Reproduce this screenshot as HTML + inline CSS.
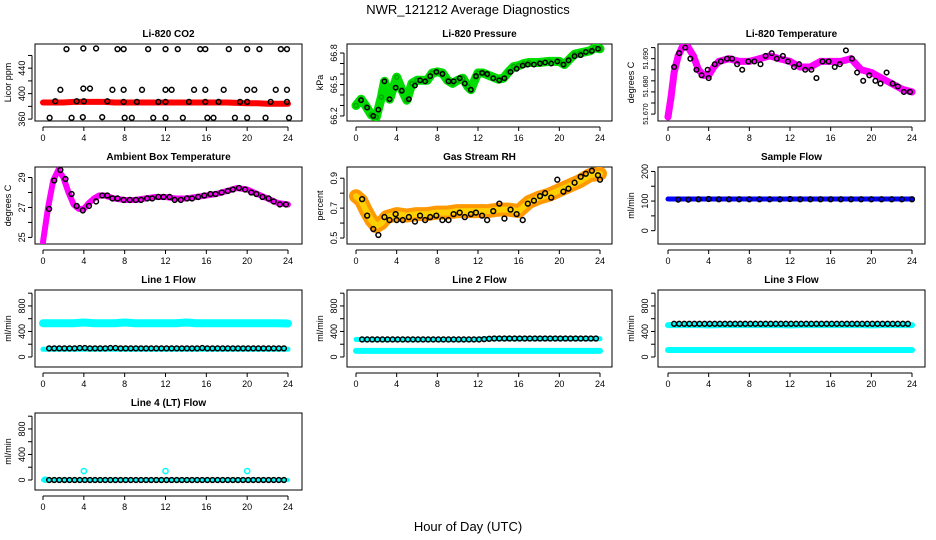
<!DOCTYPE html>
<html><head><meta charset="utf-8">
<style>
body{margin:0;background:#fff;}
svg{display:block;font-family:"Liberation Sans",sans-serif;}
</style></head>
<body>
<svg id="c" width="936" height="540" viewBox="0 0 936 540">
<text x="468" y="14" text-anchor="middle" font-size="13">NWR_121212  Average Diagnostics</text>
<text x="468" y="531" text-anchor="middle" font-size="13">Hour of Day (UTC)</text>
</svg>
<script>
// ---- data ----
const xTicks = [0,4,8,12,16,20,24];
// CO2
const co2RedX = [0,2,3,4,5,6,7,8,10,12,14,16,18,20,21,22,24];
const co2RedV = [386,386,387,387,387,387,386,386,386,386,386,386,386,385,385,384,384];
const co2BlkX = [2.3,3.95,5.2,7.3,7.9,10.3,12.0,13.2,15.4,15.9,18.2,20.0,21.2,23.3,23.9,
 1.7,3.95,4.6,6.8,7.9,9.7,12.0,12.6,14.8,15.9,17.7,20.0,20.7,22.8,23.9,
 1.2,3.3,4.0,6.3,7.9,9.2,11.3,12.0,14.3,15.9,17.2,19.3,20.0,22.3,23.9,
 0.65,2.8,3.9,5.8,8.0,8.7,10.8,12.0,13.7,16.1,16.7,18.8,20.0,21.8,24.1];
const co2BlkV = [470,471,471,470,470,470,470,470,470,470,470,470,470,470,470,
 406,408,408,406,406,406,406,406,406,406,406,406,406,406,406,
 388,388,388,388,387,387,387,387,387,387,387,387,387,387,387,
 362,362,363,363,362,362,362,362,362,362,362,362,362,362,362];
// Pressure
const presX = [0,0.5,1,1.5,2,2.5,2.8,3.3,4,4.5,5,5.5,6,7,7.5,8,8.5,9,9.5,10,10.5,11,11.3,11.8,12,12.5,13,14,14.5,15,15.5,16,16.5,17,18,19,20,20.5,21,21.5,22,23,23.5,24];
const presV = [66.30,66.36,66.29,66.21,66.19,66.38,66.53,66.36,66.57,66.45,66.35,66.51,66.54,66.54,66.61,66.62,66.61,66.54,66.51,66.54,66.56,66.48,66.45,66.57,66.61,66.61,66.59,66.55,66.56,66.62,66.67,66.68,66.70,66.71,66.71,66.72,66.72,66.69,66.74,66.79,66.80,66.82,66.85,66.84];
const presBlkX = [0.5,1.1,1.7,2.2,2.8,3.3,3.9,4.5,5.2,5.8,6.3,6.8,7.3,7.9,8.5,9.1,9.6,10.2,10.7,11.3,11.8,12.4,12.9,13.5,14.1,14.6,15.2,15.8,16.4,16.9,17.5,18.1,18.6,19.2,19.8,20.4,20.9,21.5,22.1,22.6,23.2,23.8];
const presBlkV = [66.35,66.28,66.20,66.26,66.53,66.36,66.47,66.44,66.36,66.49,66.54,66.53,66.58,66.62,66.60,66.53,66.53,66.56,66.51,66.45,66.58,66.61,66.60,66.56,66.54,66.56,66.62,66.65,66.68,66.69,66.69,66.70,66.71,66.70,66.72,66.69,66.73,66.77,66.78,66.81,66.82,66.84];
// Temperature
const tempX = [0,0.3,0.6,1,1.5,2,2.5,3,3.5,4,4.5,5,6,7,8,9,10,11,12,13,14,15,16,17,18,19,20,21,22,23,24];
const tempV = [51.669,51.676,51.685,51.691,51.695,51.694,51.691,51.686,51.684,51.684,51.687,51.689,51.690,51.689,51.689,51.690,51.691,51.690,51.689,51.687,51.687,51.689,51.689,51.689,51.690,51.686,51.685,51.683,51.681,51.679,51.678];
const tempBlkX = [0.6,1.1,1.7,2.2,2.8,3.3,3.9,4.0,4.6,5.2,5.8,6.3,6.8,7.3,7.9,8.5,9.1,9.6,10.2,10.7,11.3,11.8,12.4,12.9,13.5,14.1,14.6,15.2,15.8,16.4,16.9,17.5,18.1,18.6,19.2,19.8,20.4,20.9,21.5,22.1,22.6,23.2,23.8];
const tempBlkV = [51.687,51.692,51.694,51.690,51.686,51.684,51.686,51.683,51.688,51.689,51.690,51.690,51.688,51.686,51.689,51.689,51.688,51.691,51.692,51.690,51.691,51.689,51.687,51.688,51.686,51.686,51.683,51.689,51.689,51.687,51.688,51.693,51.690,51.685,51.682,51.684,51.682,51.681,51.685,51.681,51.680,51.678,51.678];
// Ambient
const ambX = [0,0.5,1,1.5,2,2.5,3,3.5,4,4.5,5,5.5,6,7,8,9,10,11,12,13,14,15,16,17,18,19,20,21,22,23,24];
const ambV = [24.7,27.0,28.8,29.5,29.0,28.0,27.2,26.9,26.9,27.3,27.6,27.8,27.8,27.6,27.5,27.5,27.6,27.7,27.7,27.6,27.6,27.7,27.8,27.9,28.1,28.3,28.2,27.9,27.6,27.3,27.2];
const ambBlkX = [0.6,1.1,1.7,2.2,2.8,3.3,3.9,4.5,5.2,5.8,6.3,6.8,7.3,7.9,8.5,9.1,9.6,10.2,10.7,11.3,11.8,12.4,12.9,13.5,14.1,14.6,15.2,15.8,16.4,16.9,17.5,18.1,18.6,19.2,19.8,20.4,20.9,21.5,22.1,22.6,23.2,23.8];
const ambBlkV = [26.9,28.8,29.5,28.9,27.9,27.1,26.8,27.1,27.4,27.8,27.8,27.6,27.6,27.5,27.5,27.5,27.5,27.6,27.6,27.7,27.7,27.7,27.5,27.5,27.6,27.6,27.7,27.8,27.9,27.9,28.0,28.1,28.2,28.3,28.2,28.0,27.9,27.7,27.6,27.4,27.2,27.2];
// RH
const rhX = [0,0.5,1,1.5,2,2.5,3,4,5,6,7,8,9,10,11,12,13,14,15,16,17,18,19,20,21,22,23,24];
const rhV = [0.78,0.75,0.68,0.62,0.58,0.60,0.64,0.66,0.65,0.66,0.66,0.67,0.67,0.68,0.68,0.68,0.68,0.69,0.69,0.68,0.74,0.77,0.79,0.82,0.85,0.88,0.92,0.93];
const rhBlkX = [0.6,1.1,1.7,2.2,2.8,3.3,3.9,4.0,4.6,5.2,5.8,6.3,6.8,7.3,7.9,8.5,9.1,9.6,10.2,10.7,11.3,11.8,12.4,12.9,13.5,14.1,14.6,15.2,15.8,16.4,16.9,17.5,18.1,18.6,19.2,19.8,20.4,20.9,21.5,22.1,22.6,23.2,23.8,24];
const rhBlkV = [0.76,0.65,0.56,0.52,0.64,0.62,0.66,0.62,0.62,0.64,0.61,0.65,0.62,0.64,0.65,0.62,0.62,0.66,0.67,0.64,0.66,0.67,0.65,0.62,0.68,0.73,0.63,0.69,0.66,0.62,0.73,0.75,0.78,0.80,0.77,0.89,0.81,0.83,0.87,0.91,0.93,0.95,0.92,0.89];
// Sample flow
const sfX = [0,4,8,12,16,20,24];
const sfV = [107,107,107,107,107,107,107];
const sfBlkX = [1,2,3,4,5,6,7,8,9,10,11,12,13,14,15,16,17,18,19,20,21,22,23,24];
const sfBlkV = [105,105,106,107,106,106,106,106,106,106,106,107,106,106,106,106,106,106,106,106,106,106,106,106];
// Flows
const flowBlkX = [0.6,1.1,1.6,2.1,2.6,3.1,3.6,4.1,4.6,5.1,5.6,6.1,6.6,7.1,7.6,8.1,8.6,9.1,9.6,10.1,10.6,11.1,11.6,12.1,12.6,13.1,13.6,14.1,14.6,15.1,15.6,16.1,16.6,17.1,17.6,18.1,18.6,19.1,19.6,20.1,20.6,21.1,21.6,22.1,22.6,23.1,23.6];
const l1CyanV = [530,530,530,530,540,530,530,530,540,530,530,530,530,530,540,530,530,530,530,530,530,530,530,530,525];
const l1LowV = [120,120,120,120,120,120,120,120,120,120,120,120,120,120,120,120,120,120,120,120,120,120,120,120,120];
const l1BlkV = [135,135,135,135,135,135,140,140,135,135,135,135,140,140,135,135,135,135,135,135,135,135,135,135,135,135,135,135,135,135,140,135,135,135,135,135,135,135,135,135,135,135,135,135,135,135,135];
const l2CyanV = [95,95,95,95,95,95,95,95,95,95,95,95,95,95,95,95,95,95,95,95,95,95,95,95,95];
const l2HiV = [275,270,270,270,270,270,270,270,270,270,270,270,275,285,285,285,285,285,285,285,285,285,285,285,285];
const l2BlkV = [275,275,275,275,275,275,275,275,275,275,275,275,275,275,275,275,275,275,275,275,275,275,275,275,280,285,290,290,290,290,290,290,290,290,290,290,290,290,290,290,290,290,290,290,290,290,290];
const l3CyanV = [110,110,110,110,110,110,110,110,110,110,110,110,110,110,110,110,110,110,110,110,110,110,110,110,110];
const l3HiV = [500,500,500,500,495,500,500,500,500,500,500,500,495,500,500,500,500,500,500,500,495,500,500,500,500];
const l3BlkV = [520,520,520,520,520,520,520,520,520,520,520,520,520,520,520,520,520,520,520,520,520,520,520,520,520,520,520,520,520,520,520,520,520,520,520,520,520,520,520,520,520,520,520,520,520,520,520];
const hourlyX = [0,1,2,3,4,5,6,7,8,9,10,11,12,13,14,15,16,17,18,19,20,21,22,23,24];
const l4CyanX = [0.2,4,12,20];
const l4CyanV = [5,140,140,140];
const l4BlkV = [0,0,0,0,0,0,0,0,0,0,0,0,0,0,0,0,0,0,0,0,0,0,0,0,0,0,0,0,0,0,0,0,0,0,0,0,0,0,0,0,0,0,0,0,0,0,0];

// ---- drawing ----
const svg = document.getElementById('c');
const NS = 'http://www.w3.org/2000/svg';
const colL=[35,347,658], colR=[302,612,925], colX0=[43,356,668], colX24=[288,600,912];
const rowT=[44,167,290,413];
function mk(tag, attrs, parent){const e=document.createElementNS(NS,tag);for(const k in attrs)e.setAttribute(k,attrs[k]);(parent||svg).appendChild(e);return e;}

function panel(name,title,col,row,yTitle,ymin,ymax,ticks,labels,labelSize){
  const g=mk('g',{});
  
  
  const L=colL[col],R=colR[col],T=rowT[row],B=T+77;
  const sx=h=>colX0[col]+(colX24[col]-colX0[col])*h/24;
  const sy=v=>B-(v-ymin)/(ymax-ymin)*(B-T);
  const box=mk('rect',{x:L,y:T,width:R-L,height:B-T,fill:'none',stroke:'#000','stroke-width':1},g);
  
  
  const t=mk('text',{x:(L+R)/2,y:T-7,'text-anchor':'middle','font-size':10,'font-weight':'bold'},g);
  t.textContent=title;
  
  
  const xa=mk('g',{},g);
  
  
  mk('line',{x1:sx(xTicks[0]),x2:sx(xTicks[xTicks.length-1]),y1:B+6,y2:B+6,stroke:'#000'},xa);
  xTicks.forEach(h=>{
    mk('line',{x1:sx(h),x2:sx(h),y1:B+6,y2:B+10,stroke:'#000'},xa);
    const tl=mk('text',{x:sx(h),y:B+20,'text-anchor':'middle','font-size':9},xa);
    tl.textContent=h;
    
    
  });
  const ya=mk('g',{},g);
  
  
  mk('line',{x1:L-3,x2:L-3,y1:sy(ticks[0]),y2:sy(ticks[ticks.length-1]),stroke:'#000'},ya);
  ticks.forEach(v=>mk('line',{x1:L-3,x2:L-7,y1:sy(v),y2:sy(v),stroke:'#000'},ya));
  labels.forEach(lab=>{
    const y=sy(Number(lab));
    const tl=mk('text',{x:L-10,y:y,'text-anchor':'middle','font-size':labelSize||9,transform:`rotate(-90 ${L-10} ${y})`},ya);
    tl.textContent=String(lab);
    
    
  });
  const yt=mk('text',{x:L-24,y:(T+B)/2,'text-anchor':'middle','font-size':9,transform:`rotate(-90 ${L-24} ${(T+B)/2})`},g);
  yt.textContent=yTitle;
  
  
  const clip=mk('clipPath',{id:'cl'+name},g);
  mk('rect',{x:L,y:T,width:R-L,height:B-T},clip);
  const plot=mk('g',{'clip-path':`url(#cl${name})`},g);
  return {sx,sy,plot};
}
function band(p,xs,vs,color,w,name){
  const pts=xs.map((x,i)=>p.sx(x).toFixed(1)+','+p.sy(vs[i]).toFixed(1)).join(' ');
  const pl=mk('polyline',{points:pts,fill:'none',stroke:color,'stroke-width':w,'stroke-linejoin':'round','stroke-linecap':'round'},p.plot);
  
  
}
function pts(p,xs,vs,color,r,name){
  const g=mk('g',{},p.plot);
  
  
  xs.forEach((x,i)=>{
    const c=mk('circle',{cx:p.sx(x),cy:p.sy(vs[i]),r:r||2.4,fill:'none',stroke:color,'stroke-width':1.5},g);
    
    
  });
}
function range(a,b,s){const r=[];for(let v=a;v<=b+1e-9;v+=s)r.push(+v.toFixed(4));return r;}

let p;
p=panel('co2','Li-820 CO2',0,0,'Licor ppm',357,478,range(360,460,20),['360','400','440']);
band(p,co2RedX,co2RedV,'#ff0000',6,'co2-red-series');
pts(p,co2BlkX,co2BlkV,'#000',2.4,'co2-black-points');

p=panel('pressure','Li-820 Pressure',1,0,'kPa',66.152,66.886,range(66.2,66.8,0.1),['66.2','66.5','66.8']);
band(p,presX,presV,'#00dd00',9,'pressure-green-series');
pts(p,presX,presV,'#00aa00',2,'pressure-green-points');
pts(p,presBlkX,presBlkV,'#000',2.2,'pressure-black-points');

p=panel('temperature','Li-820 Temperature',2,0,'degrees C',51.6675,51.6953,range(51.670,51.694,0.004),['51.670','51.680','51.690'],7);
band(p,tempX,tempV,'#ff00ff',7,'temp-magenta-series');
pts(p,tempX,tempV,'#ff00ff',2.8,'temp-magenta-points');
pts(p,tempBlkX,tempBlkV,'#000',2.3,'temp-black-points');

p=panel('ambient','Ambient Box Temperature',0,1,'degrees C',24.56,29.7,range(25,29,1),['25','27','29']);
band(p,ambX,ambV,'#ff00ff',6,'ambient-magenta-series');
pts(p,ambBlkX,ambBlkV,'#000',2.4,'ambient-black-points');

p=panel('rh','Gas Stream RH',1,1,'percent',0.46,0.975,range(0.5,0.9,0.1),['0.5','0.7','0.9']);
band(p,rhX,rhV,'#ff9900',14,'rh-orange-series');
band(p,rhX,rhV,'#ffd000',6,'rh-yellow-series');
pts(p,rhBlkX,rhBlkV,'#000',2.4,'rh-black-points');

p=panel('sampleflow','Sample Flow',2,1,'ml/min',-45,215,range(0,200,50),['0','100','200']);
band(p,sfX,sfV,'#0000ff',5,'sample-flow-blue-series');
pts(p,sfBlkX,sfBlkV,'#000',2.4,'sample-flow-black-points');

const fT=range(0,1000,200), fL=['0','400','800'];
p=panel('line1','Line 1 Flow',0,2,'ml/min',-157,1050,fT,fL);
band(p,hourlyX,l1CyanV,'#00ffff',8,'line1-cyan-high');
band(p,hourlyX,l1LowV,'#00ffff',5,'line1-cyan-low');
pts(p,flowBlkX,l1BlkV,'#000',2.4,'line1-black-points');

p=panel('line2','Line 2 Flow',1,2,'ml/min',-157,1050,fT,fL);
band(p,hourlyX,l2CyanV,'#00ffff',6,'line2-cyan-low');
band(p,hourlyX,l2HiV,'#00ffff',5,'line2-cyan-high');
pts(p,flowBlkX,l2BlkV,'#000',2.4,'line2-black-points');

p=panel('line3','Line 3 Flow',2,2,'ml/min',-157,1050,fT,fL);
band(p,hourlyX,l3CyanV,'#00ffff',6,'line3-cyan-low');
band(p,hourlyX,l3HiV,'#00ffff',6,'line3-cyan-high');
pts(p,flowBlkX,l3BlkV,'#000',2.4,'line3-black-points');

p=panel('line4','Line 4 (LT) Flow',0,3,'ml/min',-157,1050,fT,fL);
pts(p,l4CyanX,l4CyanV,'#00ffff',2.6,'line4-cyan-points');
band(p,[0,24],[0,0],'#00ffff',4,'line4-cyan-series');
pts(p,flowBlkX,l4BlkV,'#000',2.4,'line4-black-points');
</script>
</body></html>
